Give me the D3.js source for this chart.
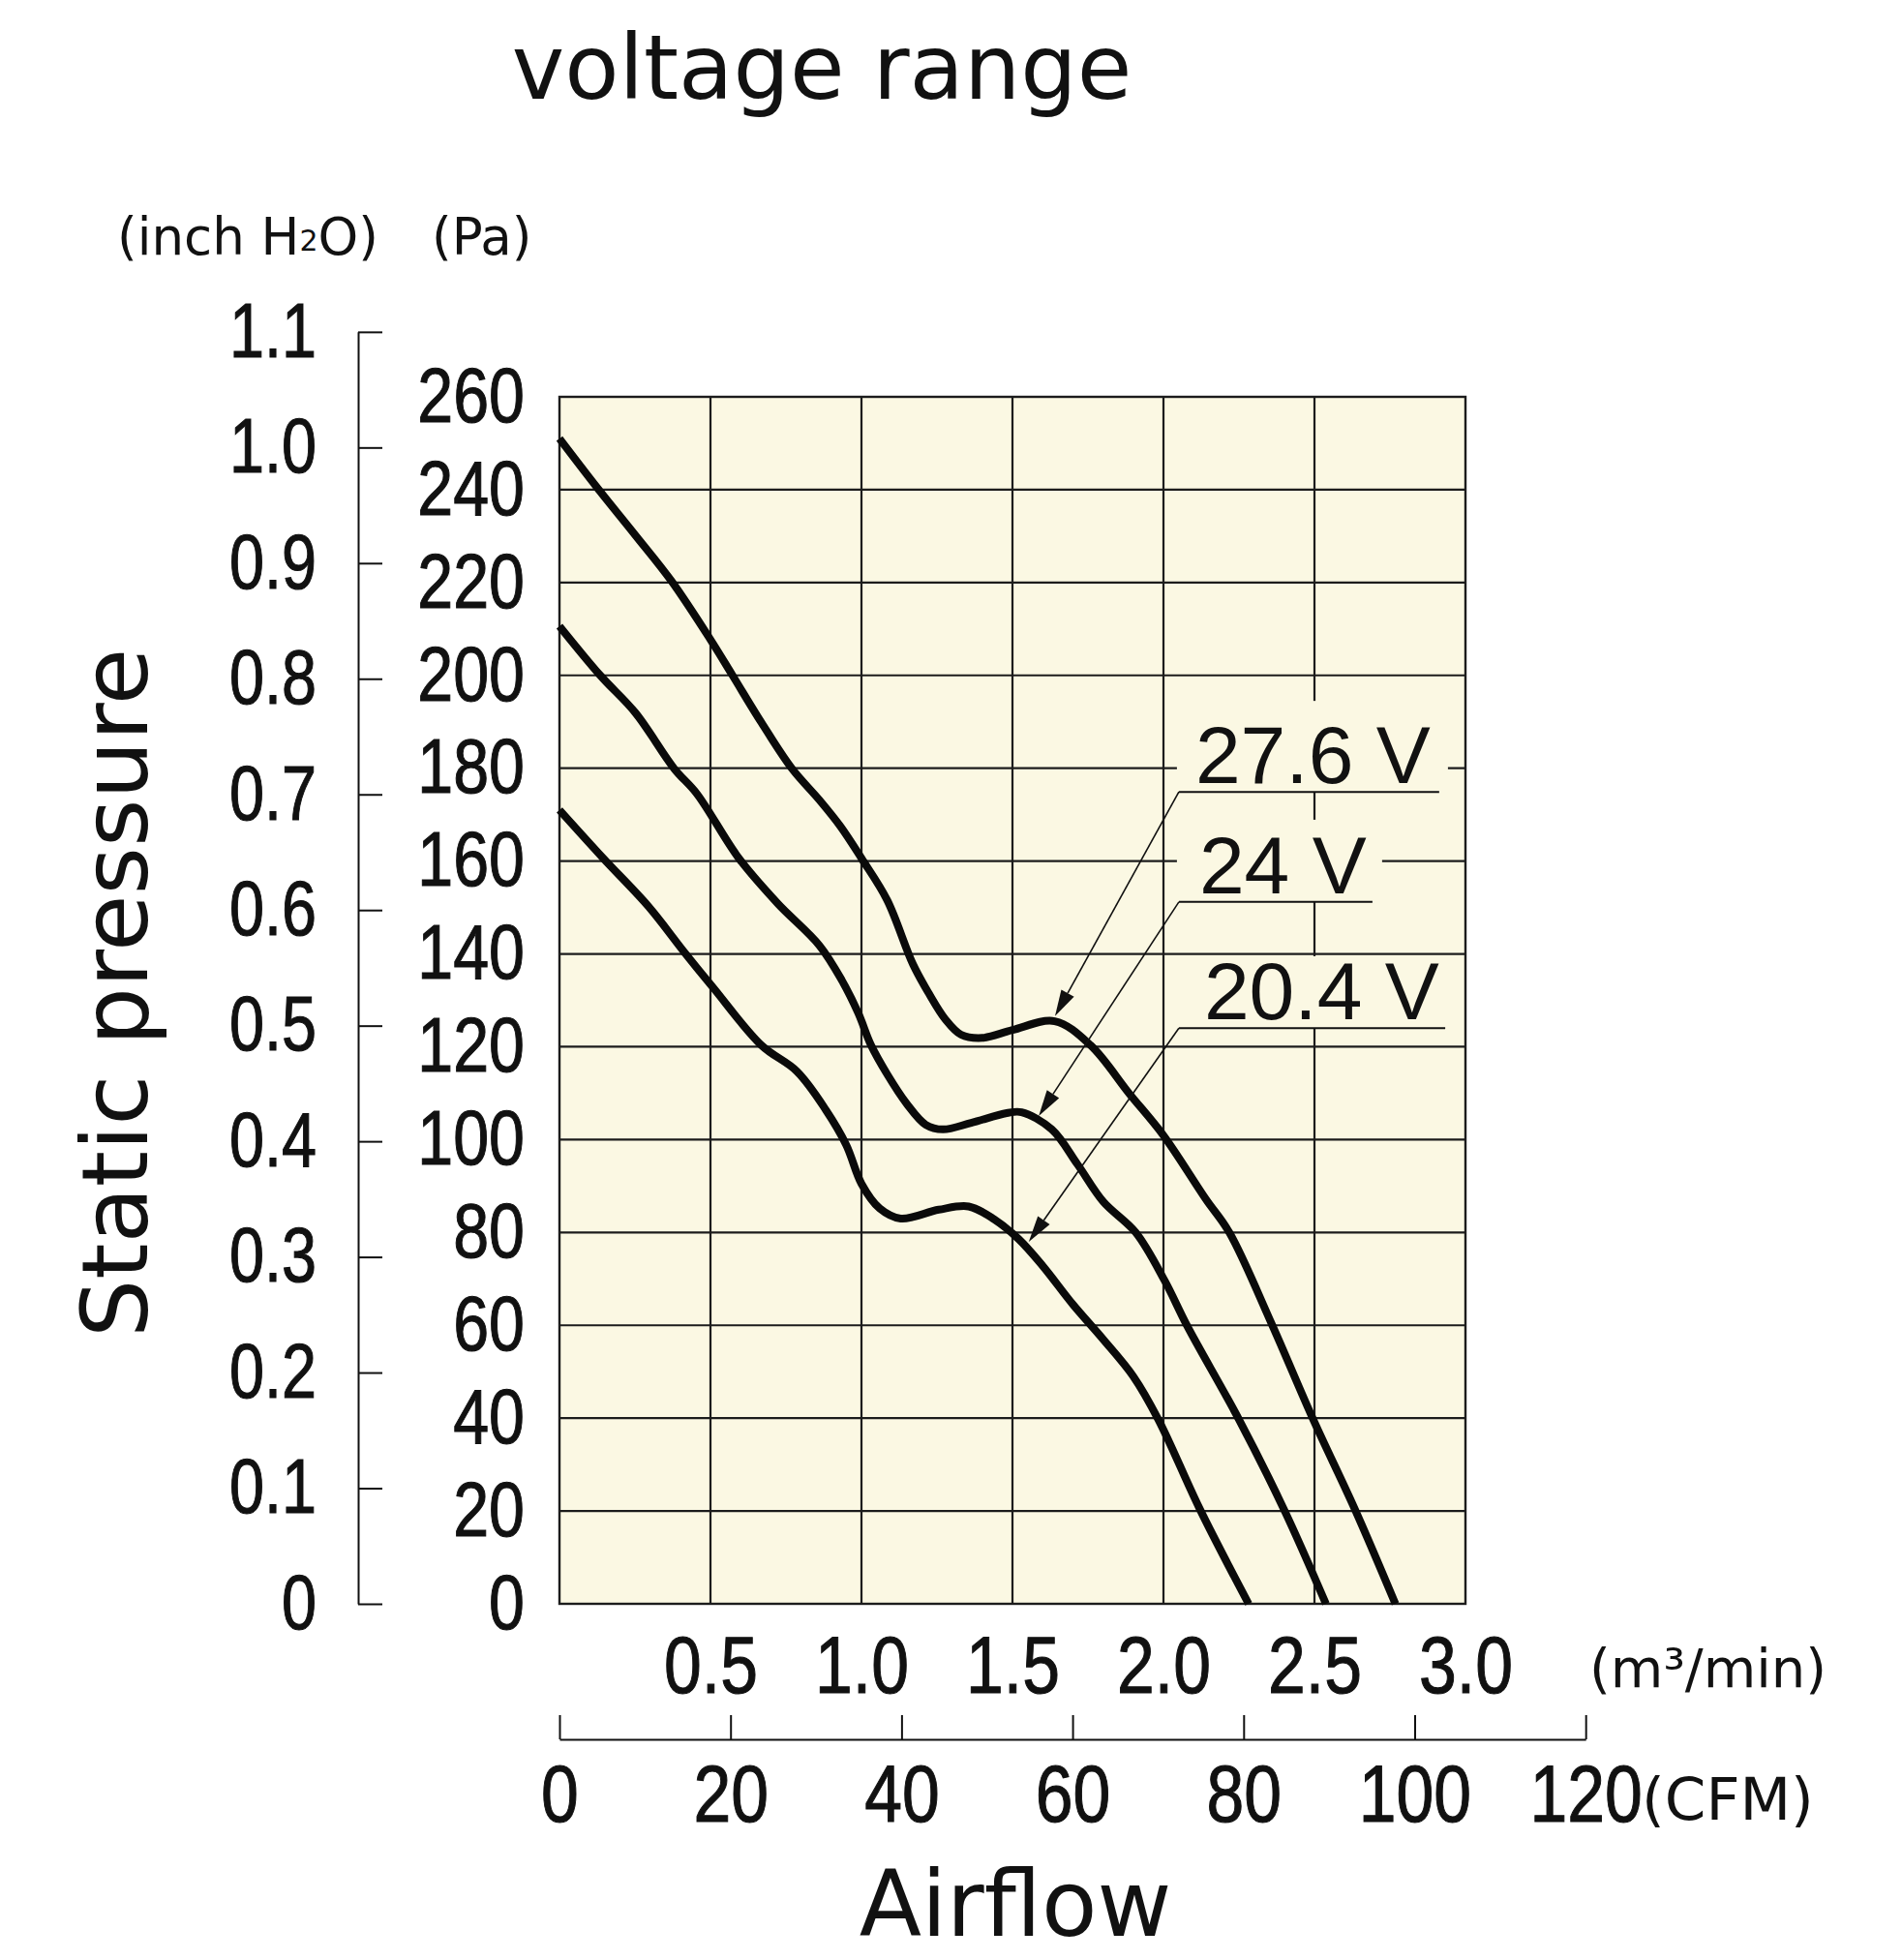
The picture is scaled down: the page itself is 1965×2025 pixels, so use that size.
<!DOCTYPE html>
<html>
<head>
<meta charset="utf-8">
<script src="https://cdn.jsdelivr.net/npm/d3@7"></script>
<style>
  html, body { margin: 0; padding: 0; background: #ffffff; }
  svg { display: block; }
</style>
</head>
<body>
<svg id="chart" width="1965" height="2025"></svg>
<script>
// ---------------- DATA ----------------
// airflow (m3/min), static pressure (Pa)
const flow276 = [0, 0.124, 0.25, 0.37, 0.498, 0.573, 0.669, 0.77, 0.86, 0.93, 1.0, 1.085, 1.171, 1.224, 1.278, 1.33, 1.40, 1.50, 1.64, 1.759, 1.887, 2.0, 2.14, 2.218, 2.357, 2.496, 2.635, 2.768];
const pres276 = [251, 240.5, 230.3, 220.4, 207.9, 200, 189.8, 179.9, 173.2, 167.5, 160.6, 151.6, 137.7, 131.4, 125.9, 122.6, 121.9, 123.6, 125.5, 120.3, 109.9, 100.9, 87.2, 80.0, 60.5, 39.7, 20.2, 0];

const flow240 = [0, 0.135, 0.252, 0.38, 0.455, 0.594, 0.722, 0.861, 0.936, 0.989, 1.032, 1.085, 1.149, 1.213, 1.27, 1.363, 1.481, 1.53, 1.63, 1.716, 1.801, 1.908, 2.004, 2.079, 2.25, 2.4, 2.538];
const pres240 = [210.6, 200, 191.9, 179.9, 174.5, 160.6, 150.9, 141.8, 134.2, 127.3, 120.3, 114.1, 107.8, 103.2, 102.2, 103.6, 105.7, 105.9, 102.2, 94.6, 86.6, 80.0, 69.6, 59.8, 39.7, 20.2, 0];

const flow204 = [0, 0.145, 0.295, 0.412, 0.508, 0.669, 0.786, 0.882, 0.95, 1.0, 1.06, 1.13, 1.256, 1.355, 1.44, 1.52, 1.60, 1.700, 1.800, 1.900, 1.983, 2.122, 2.282];
const pres204 = [171, 160.6, 150.2, 140.5, 132.8, 120.3, 114.7, 106.4, 98.8, 90.5, 85.2, 83.0, 84.9, 85.6, 82.8, 78.6, 72.8, 64.5, 57.0, 49.0, 39.7, 20.2, 0];

const seriesNames = ["27.6 V", "24 V", "20.4 V"];

// tick labels
const paTicks = [0, 20, 40, 60, 80, 100, 120, 140, 160, 180, 200, 220, 240, 260];
const inchTicks = [0, 0.1, 0.2, 0.3, 0.4, 0.5, 0.6, 0.7, 0.8, 0.9, 1.0, 1.1];
const m3Ticks = [0.5, 1.0, 1.5, 2.0, 2.5, 3.0];
const cfmTicks = [0, 20, 40, 60, 80, 100, 120];

// annotation anchors (data units: m3/min, Pa)
const annTipFlow = [1.641, 1.587, 1.554];
const annTipPres = [126.6, 105.1, 78.0];
const annLineX0 = [2.051, 2.051, 2.051];
const annLineX1 = [2.913, 2.692, 2.933];
const annLineY  = [174.9, 151.2, 124.0];
const annBoxTop = [194.5, 168.9, 139.5];
const annBoxRight = [2.942, 2.724, 2.955];

// ---------------- LAYOUT ----------------
const PA_PER_INCH = 249.0889;
const M3_PER_CFM = 0.0283168;
const plotL = 578, plotR = 1514, plotT = 410, plotB = 1657;
const bgPlot = "#fbf8e3";
const ink = "#111111";
const numFont = "'Liberation Sans', Arial, sans-serif";
const uFont = "'DejaVu Sans', Verdana, sans-serif";

const svg = d3.select("#chart");

const x = d3.scaleLinear().domain([0, 3]).range([plotL, plotR]);
const y = d3.scaleLinear().domain([0, 260]).range([plotB, plotT]);
const yInch = d3.scaleLinear().domain([0, 1.1]).range([y(0), y(1.1 * PA_PER_INCH)]);
const xCfm = d3.scaleLinear().domain([0, 120]).range([x(0), x(120 * M3_PER_CFM)]);

function condense(sel, s) {
  sel.each(function () {
    const t = d3.select(this);
    const tx = +t.attr("x") || 0;
    t.attr("x", 0).attr("transform", `translate(${tx},0) scale(${s},1)`);
  });
}
function styleNums(sel, size) {
  sel.attr("font-family", numFont).attr("font-size", size).attr("fill", ink)
    .attr("stroke", ink).attr("stroke-width", 1.1);
}

// plot background
svg.append("rect")
  .attr("x", plotL).attr("y", plotT)
  .attr("width", plotR - plotL).attr("height", plotB - plotT)
  .attr("fill", bgPlot);

// grid
const grid = svg.append("g").attr("stroke", "#1c1c1c").attr("stroke-width", 2.2);
grid.selectAll("line.h").data(paTicks.slice(1, -1)).join("line")
  .attr("x1", plotL).attr("x2", plotR)
  .attr("y1", d => y(d)).attr("y2", d => y(d));
grid.selectAll("line.v").data(m3Ticks.slice(0, -1)).join("line")
  .attr("y1", plotT).attr("y2", plotB)
  .attr("x1", d => x(d)).attr("x2", d => x(d));

// annotation label backgrounds (break grid behind text)
const ann = seriesNames.map((n, i) => ({
  name: n, tx: annTipFlow[i], ty: annTipPres[i],
  lx0: annLineX0[i], lx1: annLineX1[i], ly: annLineY[i],
  bt: annBoxTop[i], br: annBoxRight[i]
}));
svg.append("g").selectAll("rect").data(ann).join("rect")
  .attr("x", d => x(d.lx0) - 2)
  .attr("y", d => y(d.bt))
  .attr("width", d => x(d.br) - x(d.lx0) + 2)
  .attr("height", d => y(d.ly) - y(d.bt))
  .attr("fill", bgPlot);

// border
svg.append("rect")
  .attr("x", plotL).attr("y", plotT)
  .attr("width", plotR - plotL).attr("height", plotB - plotT)
  .attr("fill", "none").attr("stroke", "#1c1c1c").attr("stroke-width", 2.4);

// curves
const curves = [
  flow276.map((f, i) => [f, pres276[i]]),
  flow240.map((f, i) => [f, pres240[i]]),
  flow204.map((f, i) => [f, pres204[i]])
];
const line = d3.line().x(d => x(d[0])).y(d => y(d[1])).curve(d3.curveCatmullRom.alpha(0.5));
svg.append("g").selectAll("path").data(curves).join("path")
  .attr("d", line)
  .attr("fill", "none").attr("stroke", "#0a0a0a")
  .attr("stroke-width", 8).attr("stroke-linejoin", "round").attr("stroke-linecap", "butt");

// annotations
const annG = svg.append("g");
ann.forEach(d => {
  const x0 = x(d.lx0), y0 = y(d.ly), tx = x(d.tx), ty = y(d.ty);
  const dx = tx - x0, dy = ty - y0, len = Math.hypot(dx, dy);
  const ux = dx / len, uy = dy / len;
  const headL = 27, headW = 7.5;
  const bx = tx - ux * headL, by = ty - uy * headL;
  annG.append("line").attr("x1", x0).attr("y1", y0).attr("x2", x(d.lx1)).attr("y2", y0)
    .attr("stroke", ink).attr("stroke-width", 2);
  annG.append("line").attr("x1", x0).attr("y1", y0).attr("x2", bx).attr("y2", by)
    .attr("stroke", ink).attr("stroke-width", 1.6);
  annG.append("path")
    .attr("d", `M${tx},${ty}L${bx - uy * headW},${by + ux * headW}L${bx + uy * headW},${by - ux * headW}Z`)
    .attr("fill", ink);
  annG.append("text")
    .attr("x", x0 + (d.name === "24 V" ? 21 : d.name === "20.4 V" ? 26 : 17))
    .attr("y", y0 - 9)
    .attr("font-family", numFont)
    .attr("font-size", 84).attr("fill", ink)
    .text(d.name);
});

// Pa axis (left of plot)
const paAxis = svg.append("g").attr("transform", `translate(${plotL},0)`)
  .call(d3.axisLeft(y).tickValues(paTicks).tickSize(0).tickPadding(36).tickFormat(d3.format("d")));
paAxis.select(".domain").remove();
styleNums(paAxis.selectAll("text"), 79);
condense(paAxis.selectAll("text"), 0.84);

// inch H2O axis
const inchAxis = svg.append("g").attr("transform", "translate(370,0)")
  .call(d3.axisLeft(yInch).tickValues(inchTicks).tickSize(-25).tickSizeOuter(0).tickPadding(43)
    .tickFormat(d => d === 0 ? "0" : d.toFixed(1)));
inchAxis.selectAll("line, path").attr("stroke", ink).attr("stroke-width", 2);
styleNums(inchAxis.selectAll("text"), 79);
condense(inchAxis.selectAll("text"), 0.82);

// m3/min labels
const m3Axis = svg.append("g").attr("transform", `translate(0,${plotB})`)
  .call(d3.axisBottom(x).tickValues(m3Ticks).tickSize(0).tickPadding(33).tickFormat(d3.format(".1f")));
m3Axis.select(".domain").remove();
styleNums(m3Axis.selectAll("text"), 83);
condense(m3Axis.selectAll("text"), 0.84);

// CFM axis
const cfmAxis = svg.append("g").attr("transform", "translate(0,1797)")
  .call(d3.axisBottom(xCfm).tickValues(cfmTicks).tickSize(-25).tickSizeOuter(0).tickPadding(26).tickFormat(d3.format("d")));
cfmAxis.selectAll("line, path").attr("stroke", ink).attr("stroke-width", 2);
styleNums(cfmAxis.selectAll("text"), 83);
condense(cfmAxis.selectAll("text"), 0.84);

// unit labels
const unitInch = svg.append("text").attr("x", 121).attr("y", 263)
  .attr("font-family", uFont).attr("font-size", 53).attr("fill", ink);
unitInch.append("tspan").text("(inch H");
unitInch.append("tspan").attr("font-size", 30).attr("dy", -4).text("2");
unitInch.append("tspan").attr("dy", 4).text("O)");
svg.append("text").attr("x", 446).attr("y", 263)
  .attr("font-family", uFont).attr("font-size", 53).attr("fill", ink).text("(Pa)");

svg.append("text").attr("x", 1642).attr("y", 1743)
  .attr("font-family", uFont).attr("font-size", 56).attr("fill", ink).text("(m³/min)");
svg.append("text").attr("x", 1696).attr("y", 1880)
  .attr("font-family", uFont).attr("font-size", 61).attr("fill", ink).text("(CFM)");

// titles
svg.append("text").attr("x", 849).attr("y", 102).attr("text-anchor", "middle")
  .attr("font-family", uFont).attr("font-size", 92).attr("fill", ink).text("voltage range");
svg.append("text").attr("x", 1049).attr("y", 2000).attr("text-anchor", "middle")
  .attr("font-family", uFont).attr("font-size", 94).attr("fill", ink).text("Airflow");
svg.append("text").attr("transform", "translate(152,1026) rotate(-90)").attr("text-anchor", "middle")
  .attr("font-family", uFont).attr("font-size", 95).attr("fill", ink).text("Static pressure");
</script>
</body>
</html>
